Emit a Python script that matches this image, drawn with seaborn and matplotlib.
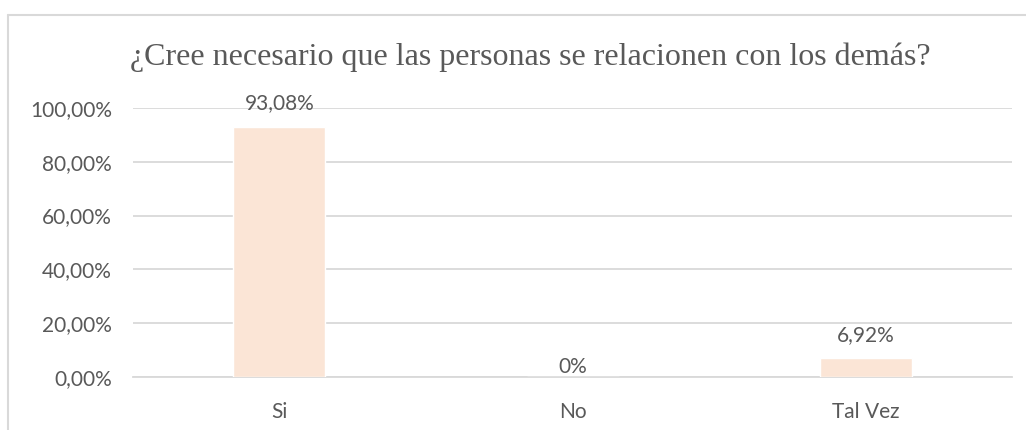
import numpy as np
import pandas as pd
import seaborn as sns
import matplotlib.pyplot as plt
from matplotlib.lines import Line2D
from matplotlib.ticker import FuncFormatter

# data
categories = ["Si", "No", "Tal Vez"]
values = [0.9308, 0.0, 0.0692]
value_labels = ["93,08%", "0%", "6,92%"]
title = "¿Cree necesario que las personas se relacionen con los demás?"

df = pd.DataFrame({"respuesta": categories, "valor": values})

sns.set_theme(style="white")
plt.rcParams['font.family'] = ['Lato', 'DejaVu Sans']

text_col = "#595959"
grid_col = "#D9D9D9"
bar_col = "#FBE5D6"

fig = plt.figure(figsize=(10.26, 4.30), dpi=100)
ax = fig.add_axes([0.1296, 0.1233, 0.8568, 0.6256])

sns.barplot(data=df, x="respuesta", y="valor", color=bar_col, width=0.314,
            saturation=1, ax=ax, zorder=3)

ax.set_ylim(0, 1.0)
ax.set_yticks(np.arange(0, 1.01, 0.2))
ax.yaxis.set_major_formatter(FuncFormatter(lambda v, p: f"{v*100:.2f}%".replace(".", ",")))
ax.yaxis.grid(True, color=grid_col, linewidth=1.3, zorder=0)
ax.set_axisbelow(True)
for s in ["top", "right", "left"]:
    ax.spines[s].set_visible(False)
ax.spines["bottom"].set_color(grid_col)
ax.spines["bottom"].set_linewidth(1.3)
ax.set_xlabel("")
ax.set_ylabel("")
ax.tick_params(axis="both", length=0, labelsize=15, labelcolor=text_col)
ax.tick_params(axis="y", pad=15)
ax.tick_params(axis="x", pad=18)

for p, lab in zip(ax.patches, value_labels):
    h = p.get_height()
    off = 17 if h > 0 else 7
    ax.annotate(lab, (p.get_x() + p.get_width() / 2, h),
                xytext=(0, off), textcoords="offset points", ha="center", va="center",
                fontsize=15, color=text_col)

fig.text(0.517, 0.866, title, ha="center", va="center", fontsize=23,
         color=text_col, family=["Liberation Serif", "DejaVu Serif"])

# chart frame (only top and left edges are visible in the crop)
fig.add_artist(Line2D([0.0078, 1.0], [0.966, 0.966], color=grid_col, linewidth=1.5))
fig.add_artist(Line2D([0.0078, 0.0078], [0.0, 0.966], color=grid_col, linewidth=1.5))

fig.savefig("out.png", dpi=100)
